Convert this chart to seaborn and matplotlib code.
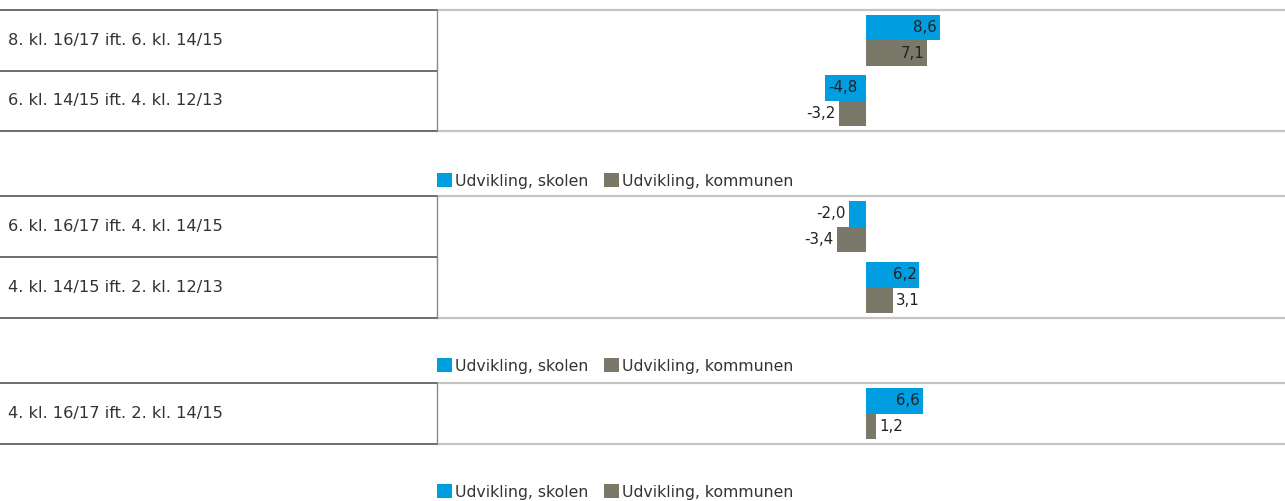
import matplotlib
matplotlib.use("Agg")
import matplotlib.pyplot as plt
import matplotlib.transforms as mtransforms
from matplotlib.patches import Patch
import pandas as pd
import seaborn as sns

# Data: development per cohort, school vs. municipality
rows_1 = ["8. kl. 16/17 ift. 6. kl. 14/15", "6. kl. 14/15 ift. 4. kl. 12/13"]
skolen_1 = [8.6, -4.8]
kommunen_1 = [7.1, -3.2]

rows_2 = ["6. kl. 16/17 ift. 4. kl. 14/15", "4. kl. 14/15 ift. 2. kl. 12/13"]
skolen_2 = [-2.0, 6.2]
kommunen_2 = [-3.4, 3.1]

rows_3 = ["4. kl. 16/17 ift. 2. kl. 14/15"]
skolen_3 = [6.6]
kommunen_3 = [1.2]

series_names = ["Udvikling, skolen", "Udvikling, kommunen"]
BLUE = "#009ee0"
GREY = "#7a7868"
palette = {series_names[0]: BLUE, series_names[1]: GREY}

W, H = 1285, 501
sns.set_style("white")
plt.rcParams["font.family"] = ["DejaVu Sans"]
fig = plt.figure(figsize=(W / 100, H / 100), dpi=100)

# panel layout in pixels: (top, bottom, legend centre y)
panels = [
    (rows_1, skolen_1, kommunen_1, 10, 131, 181),
    (rows_2, skolen_2, kommunen_2, 196, 318, 366),
    (rows_3, skolen_3, kommunen_3, 383, 444, 492),
]
X0, X1 = 437, 1285
XMIN, XMAX = -49.9, 48.7
TEXT = "#333333"
DARK = "#555555"
LIGHT = "#c4c4c4"

def fmt(v):
    return f"{v:.1f}".replace(".", ",")

fig.canvas.draw()
renderer = fig.canvas.get_renderer()

for rows, sk, ko, top, bot, leg_y in panels:
    ax = fig.add_axes([X0 / W, (H - bot) / H, (X1 - X0) / W, (bot - top) / H])
    df = pd.DataFrame({
        "row": rows * 2,
        "value": list(sk) + list(ko),
        "serie": [series_names[0]] * len(rows) + [series_names[1]] * len(rows),
    })
    sns.barplot(data=df, y="row", x="value", hue="serie", hue_order=series_names,
                palette=palette, orient="h", width=0.85, linewidth=0,
                saturation=1, legend=False, ax=ax)
    n = len(rows)
    ax.set_xlim(XMIN, XMAX)
    ax.set_ylim(n - 0.5, -0.5)
    ax.set_xlabel("")
    ax.set_ylabel("")
    ax.set_xticks([])
    ax.set_yticks([])
    for side in ["right", "bottom", "top"]:
        ax.spines[side].set_visible(False)
    ax.spines["left"].set_color("#8a8a8a")
    ax.spines["left"].set_linewidth(1.0)

    # light rules across the plotting area, dark rules across the label column
    left_frac = -X0 / (X1 - X0)
    for yb in [-0.5, n - 0.5]:
        ax.axhline(yb, 0, 1, color=LIGHT, lw=1.6, clip_on=False)
        ax.axhline(yb, left_frac, 0, color=DARK, lw=1.2, clip_on=False)
    for i in range(1, n):
        ax.axhline(i - 0.5, left_frac, 0, color=DARK, lw=1.2, clip_on=False)

    # row labels in the left column
    tr = mtransforms.blended_transform_factory(fig.transFigure, ax.transData)
    for i, r in enumerate(rows):
        ax.text(8 / W, i, r, transform=tr, ha="left", va="center",
                fontsize=11.7, color=TEXT)

    # value labels: inside the bar end when there is room, otherwise outside
    px_per_unit = (X1 - X0) / (XMAX - XMIN)
    for patch in ax.patches:
        w = patch.get_width()
        if patch.get_height() == 0:
            continue
        yc = patch.get_y() + patch.get_height() / 2
        end = patch.get_x() + w
        t = ax.text(0, yc, fmt(w), fontsize=10.8, color="#222222", va="center")
        tw = t.get_window_extent(renderer).width
        bar_px = abs(w) * px_per_unit
        pad = 3 / px_per_unit
        if bar_px >= tw + 4:
            if w >= 0:
                t.set_position((end - pad, yc)); t.set_ha("right")
            else:
                t.set_position((end + pad, yc)); t.set_ha("left")
        else:
            if w >= 0:
                t.set_position((end + pad, yc)); t.set_ha("left")
            else:
                t.set_position((end - pad, yc)); t.set_ha("right")

    handles = [Patch(facecolor=palette[s], edgecolor="none") for s in series_names]
    fig.legend(handles, series_names, loc="center left",
               bbox_to_anchor=(X0 / W, (H - leg_y) / H),
               ncol=2, frameon=False, fontsize=11.3, handlelength=0.95,
               handleheight=0.95, handletextpad=0.2, columnspacing=1.0,
               borderpad=0, borderaxespad=0, labelcolor=TEXT)

fig.savefig("out.png", dpi=100, facecolor="white")
